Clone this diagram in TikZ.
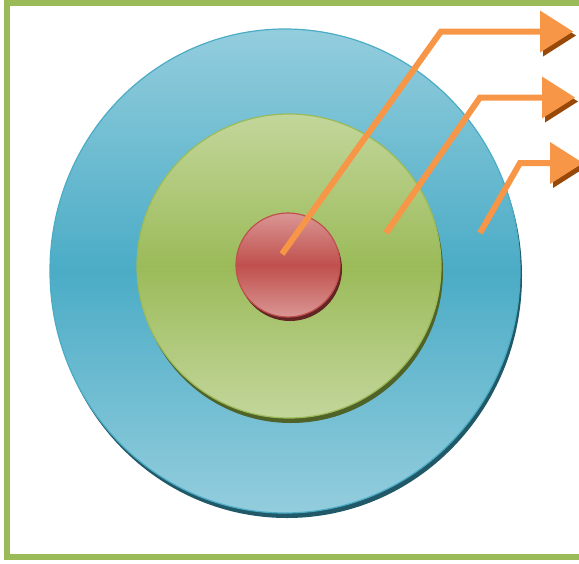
\documentclass[tikz,border=0pt]{standalone}
\usetikzlibrary{arrows.meta,shapes.geometric,shadows}
\definecolor{frameg}{HTML}{9BBB59}
\definecolor{blueA}{HTML}{93CDDD}
\definecolor{blueB}{HTML}{4BACC6}
\definecolor{blueS}{HTML}{215968}
\definecolor{greenA}{HTML}{C3D69B}
\definecolor{greenB}{HTML}{9BBB59}
\definecolor{greenS}{HTML}{4F6228}
\definecolor{redA}{HTML}{DA9694}
\definecolor{redB}{HTML}{C0504D}
\definecolor{redS}{HTML}{632523}
\definecolor{flowor}{HTML}{F79646}
\definecolor{flowS}{HTML}{984807}
\begin{document}
\begin{tikzpicture}[x=1pt, y=-1pt, line join=miter,
    ring/.style={ellipse, inner sep=0pt, outer sep=0pt, line width=1.2pt},
    flow/.style={draw=flowor, line width=6pt, -{Triangle[length=33pt,width=42pt,line width=0pt]}},
    flowtip/.style={draw=flowS, fill=flowS, line width=0.2pt, -{Triangle[length=33pt,width=42pt,line width=0pt]}}]
    \useasboundingbox (0,0) rectangle (579,563);
    \draw[frameg, line width=6pt] (7,2.5) rectangle (581.5,557);

    \node[ring, minimum width=470pt, minimum height=484pt, draw=blueB,
          top color=blueA, bottom color=blueA, middle color=blueB,
          drop shadow={shadow xshift=2pt, shadow yshift=-5pt, fill=blueS, opacity=1}] (outer) at (285,271) {};
    \node[ring, minimum size=304pt, draw=greenB,
          top color=greenA, bottom color=greenA, middle color=greenB,
          drop shadow={shadow xshift=2pt, shadow yshift=-5pt, fill=greenS, opacity=1}] (middle) at (289,266) {};
    \node[ring, minimum size=104pt, draw=redB,
          top color=redA, bottom color=redA, middle color=redB,
          drop shadow={shadow xshift=2pt, shadow yshift=-4pt, fill=redS, opacity=1}] (inner) at (288,265) {};

    \coordinate (s1) at (282,254);
    \coordinate (b1) at (441,31.5);
    \coordinate (e1) at (573,31.5);
    \coordinate (s2) at (386,233);
    \coordinate (b2) at (480,97.5);
    \coordinate (e2) at (575,97.5);
    \coordinate (s3) at (480,233);
    \coordinate (b3) at (520,163);
    \coordinate (e3) at (583,163);

    \draw[flowtip] ([shift={(-31,4)}]e1) -- ([shift={(3,4)}]e1);
    \draw[flowtip] ([shift={(-31,4)}]e2) -- ([shift={(3,4)}]e2);
    \draw[flowtip] ([shift={(-31,4)}]e3) -- ([shift={(3,4)}]e3);

    \draw[flow] (s1) -- (b1) -- (e1);
    \draw[flow] (s2) -- (b2) -- (e2);
    \draw[flow] (s3) -- (b3) -- (e3);
\end{tikzpicture}
\end{document}
